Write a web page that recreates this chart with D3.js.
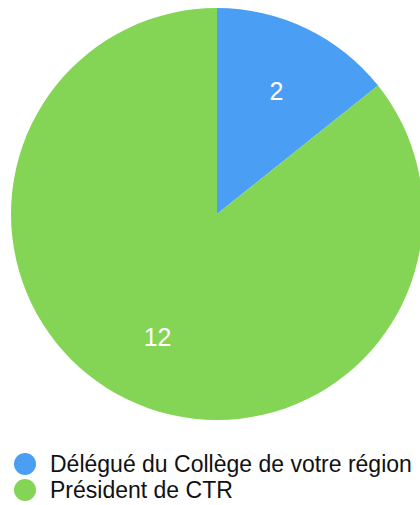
<!DOCTYPE html>
<html>
<head>
<meta charset="utf-8">
<script src="https://cdn.jsdelivr.net/npm/d3@7"></script>
<style>
  body { margin: 0; background: #fff; }
  svg { display: block; font-family: 'Liberation Sans', Arial, Helvetica, sans-serif; }
</style>
</head>
<body>
<svg id="chart"></svg>
<script>
// data
const categories = ['Délégué du Collège de votre région', 'Président de CTR'];
const values = [2, 12];
const colors = ['#4a9ff5', '#84d455'];

const width = 420;
const height = 505;
const center = { x: 217, y: 214 };
const radius = 206;

const svg = d3.select('#chart')
    .attr('width', width)
    .attr('height', height);

const pie = d3.pie().sort(null).value((d) => d);
const arcs = pie(values);

const arc = d3.arc().innerRadius(0).outerRadius(radius);
const labelArc = d3.arc().innerRadius(radius * 0.665).outerRadius(radius * 0.665);

const g = svg.append('g')
    .attr('transform', `translate(${center.x},${center.y})`);

// slices
g.selectAll('path.slice')
    .data(arcs)
    .enter()
    .append('path')
        .attr('class', 'slice')
        .attr('d', arc)
        .attr('fill', (d, i) => colors[i]);

// value labels
g.selectAll('text.label')
    .data(arcs)
    .enter()
    .append('text')
        .attr('class', 'label')
        .attr('transform', (d) => `translate(${labelArc.centroid(d)})`)
        .attr('text-anchor', 'middle')
        .attr('dy', '0.36em')
        .attr('fill', '#fff')
        .style('font-size', '25px')
        .text((d) => d.data);

// legend
const legend = svg.append('g')
    .attr('class', 'legend')
    .attr('transform', 'translate(25,464)');

const rows = legend.selectAll('g.row')
    .data(categories)
    .enter()
    .append('g')
        .attr('class', 'row')
        .attr('transform', (d, i) => `translate(0,${i * 26})`);

rows.append('circle')
    .attr('r', 11)
    .attr('fill', (d, i) => colors[i]);

rows.append('text')
    .attr('x', 25)
    .attr('dy', '0.35em')
    .attr('fill', '#111')
    .style('font-size', '23px')
    .text((d) => d);
</script>
</body>
</html>
